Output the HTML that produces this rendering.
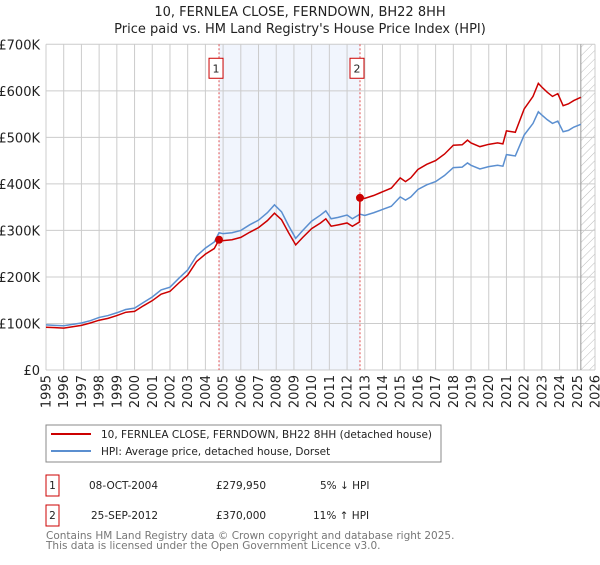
<!DOCTYPE html>
<html><head><meta charset="utf-8"><style>
body{margin:0;background:#fff;font-family:"Liberation Sans","DejaVu Sans",sans-serif}
svg text{font-family:"DejaVu Sans","Liberation Sans",sans-serif}
</style></head><body>
<svg id="c" width="600" height="560" xmlns="http://www.w3.org/2000/svg">
<defs><pattern id="hatch" patternUnits="userSpaceOnUse" width="6" height="6" patternTransform="rotate(45)"><line x1="0" y1="0" x2="0" y2="6" stroke="#bbb" stroke-width="1"/></pattern></defs>
<text x="300" y="16" text-anchor="middle" font-size="13" fill="#222">10, FERNLEA CLOSE, FERNDOWN, BH22 8HH</text>
<text x="300" y="33" text-anchor="middle" font-size="13" fill="#222">Price paid vs. HM Land Registry's House Price Index (HPI)</text>
<g id="plot"></g>
<g>
<rect x="46" y="425" width="395" height="37" fill="#fff" stroke="#888"/>
<line x1="51" y1="434" x2="91" y2="434" stroke="#cc0000" stroke-width="2"/>
<text x="101" y="438" font-size="10.5" fill="#222">10, FERNLEA CLOSE, FERNDOWN, BH22 8HH (detached house)</text>
<line x1="51" y1="451" x2="91" y2="451" stroke="#5b8fd0" stroke-width="2"/>
<text x="101" y="455" font-size="10.5" fill="#222">HPI: Average price, detached house, Dorset</text>
</g>
<g font-size="10.5" fill="#222">
<rect x="46" y="475" width="13" height="21" fill="none" stroke="#cc0000"/><text x="52.5" y="489" text-anchor="middle">1</text>
<text x="89" y="489">08-OCT-2004</text><text x="216" y="489">£279,950</text><text x="320" y="489">5% ↓ HPI</text>
<rect x="46" y="505" width="13" height="21" fill="none" stroke="#cc0000"/><text x="52.5" y="519" text-anchor="middle">2</text>
<text x="91" y="519">25-SEP-2012</text><text x="216" y="519">£370,000</text><text x="313" y="519">11% ↑ HPI</text>
</g>
<text x="46" y="539" font-size="10.5" fill="#777">Contains HM Land Registry data © Crown copyright and database right 2025.</text>
<text x="46" y="549" font-size="10.5" fill="#777">This data is licensed under the Open Government Licence v3.0.</text>
</svg>
<script>
const yTicks=[0,100,200,300,400,500,600,700];
const yTickLabels=["£0","£100K","£200K","£300K","£400K","£500K","£600K","£700K"];
const years=[1995,1996,1997,1998,1999,2000,2001,2002,2003,2004,2005,2006,2007,2008,2009,2010,2011,2012,2013,2014,2015,2016,2017,2018,2019,2020,2021,2022,2023,2024,2025,2026];
const hpiX=[1995,1995.5,1996,1996.5,1997,1997.5,1998,1998.5,1999,1999.5,2000,2000.5,2001,2001.5,2002,2002.5,2003,2003.5,2004,2004.5,2004.77,2005,2005.5,2006,2006.5,2007,2007.5,2007.9,2008.3,2008.7,2009.1,2009.5,2010,2010.5,2010.8,2011.1,2011.5,2012,2012.3,2012.73,2013,2013.5,2014,2014.5,2015,2015.3,2015.6,2016,2016.5,2017,2017.5,2018,2018.5,2018.8,2019,2019.5,2020,2020.5,2020.8,2021,2021.5,2022,2022.5,2022.8,2023,2023.3,2023.6,2023.9,2024.2,2024.5,2024.8,2025.2];
const hpiY=[97,96,95,98,101,106,113,117,123,130,133,145,157,172,178,197,215,245,262,275,295,293,295,300,312,322,338,355,340,310,283,300,320,333,342,325,328,333,325,335,332,338,345,352,372,365,372,388,398,405,418,435,436,445,440,432,437,440,438,463,460,505,530,555,548,538,530,535,512,515,522,528];
const paidX=[1995,1995.5,1996,1996.5,1997,1997.5,1998,1998.5,1999,1999.5,2000,2000.5,2001,2001.5,2002,2002.5,2003,2003.5,2004,2004.5,2004.77,2005,2005.5,2006,2006.5,2007,2007.5,2007.9,2008.3,2008.7,2009.1,2009.5,2010,2010.5,2010.8,2011.1,2011.5,2012,2012.3,2012.7,2012.73,2013,2013.5,2014,2014.5,2015,2015.3,2015.6,2016,2016.5,2017,2017.5,2018,2018.5,2018.8,2019,2019.5,2020,2020.5,2020.8,2021,2021.5,2022,2022.5,2022.8,2023,2023.3,2023.6,2023.9,2024.2,2024.5,2024.8,2025.2];
const paidY=[92,91,90,93,96,101,107,111,117,124,126,138,149,163,169,187,204,233,249,261,280,278,280,285,296,306,321,337,323,295,269,285,304,316,325,309,312,316,309,318,370,369,375,383,391,413,405,413,431,442,450,464,483,484,494,488,480,485,488,486,514,511,561,588,616,608,597,588,594,568,572,579,586];
const salesX=[2004.77,2012.73];
const salesY=[279.95,370];
const salesLabel=["1","2"];
const x0=46,x1=595,yb=370,yt=44.3;
const X=v=>x0+(v-1995)/(2026-1995)*(x1-x0);
const Y=v=>yb-v/700*(yb-yt);
const NS="http://www.w3.org/2000/svg",g=document.getElementById('plot');
function mk(t,a,p){const e=document.createElementNS(NS,t);for(const k in a)e.setAttribute(k,a[k]);(p||g).appendChild(e);return e;}
let e=mk('rect',{x:X(salesX[0]),y:yt,width:X(salesX[1])-X(salesX[0]),height:yb-yt,fill:'#eef3fc',opacity:0.8});


e=mk('rect',{x:X(2025.2),y:yt,width:x1-X(2025.2),height:yb-yt,fill:'url(#hatch)'});


years.forEach(yr=>{
 e=mk('line',{x1:X(yr),x2:X(yr),y1:yt,y2:yb,stroke:'#ccc','stroke-width':1});
 
 
 e=mk('text',{x:0,y:0,'font-size':13,fill:'#222','text-anchor':'end',transform:`translate(${X(yr)+4.5},${yb+5}) rotate(-90)`});
 e.textContent=yr;
 
 
});
yTicks.forEach((v,i)=>{
 e=mk('line',{x1:x0,x2:x1,y1:Y(v),y2:Y(v),stroke:'#ccc','stroke-width':1});
 
 
 e=mk('text',{x:x0-6,y:Y(v)+5,'font-size':13,fill:'#222','text-anchor':'end'});
 e.textContent=yTickLabels[i];
 
 
});
e=mk('line',{x1:X(2025.2),x2:X(2025.2),y1:yt,y2:yb,stroke:'#999','stroke-width':1});


salesX.forEach((sx,i)=>{
 e=mk('line',{x1:X(sx),x2:X(sx),y1:yt,y2:yb,stroke:'#e05050','stroke-width':1,'stroke-dasharray':'2,2'});
 
 
 e=mk('rect',{x:X(sx)-10,y:Y(670),width:14,height:20,fill:'#fff',stroke:'#cc0000'});
 
 
 e=mk('text',{x:X(sx)-3,y:Y(670)+14,'font-size':11,fill:'#222','text-anchor':'middle'});
 e.textContent=salesLabel[i];
 
 
});
e=mk('polyline',{points:hpiX.map((x,i)=>X(x)+','+Y(hpiY[i])).join(' '),fill:'none',stroke:'#5b8fd0','stroke-width':1.5});


e=mk('polyline',{points:paidX.map((x,i)=>X(x)+','+Y(paidY[i])).join(' '),fill:'none',stroke:'#cc0000','stroke-width':1.5});


salesX.forEach((sx,i)=>{
 e=mk('circle',{cx:X(sx),cy:Y(salesY[i]),r:4,fill:'#cc0000'});
 
 
});
</script>
</body></html>
